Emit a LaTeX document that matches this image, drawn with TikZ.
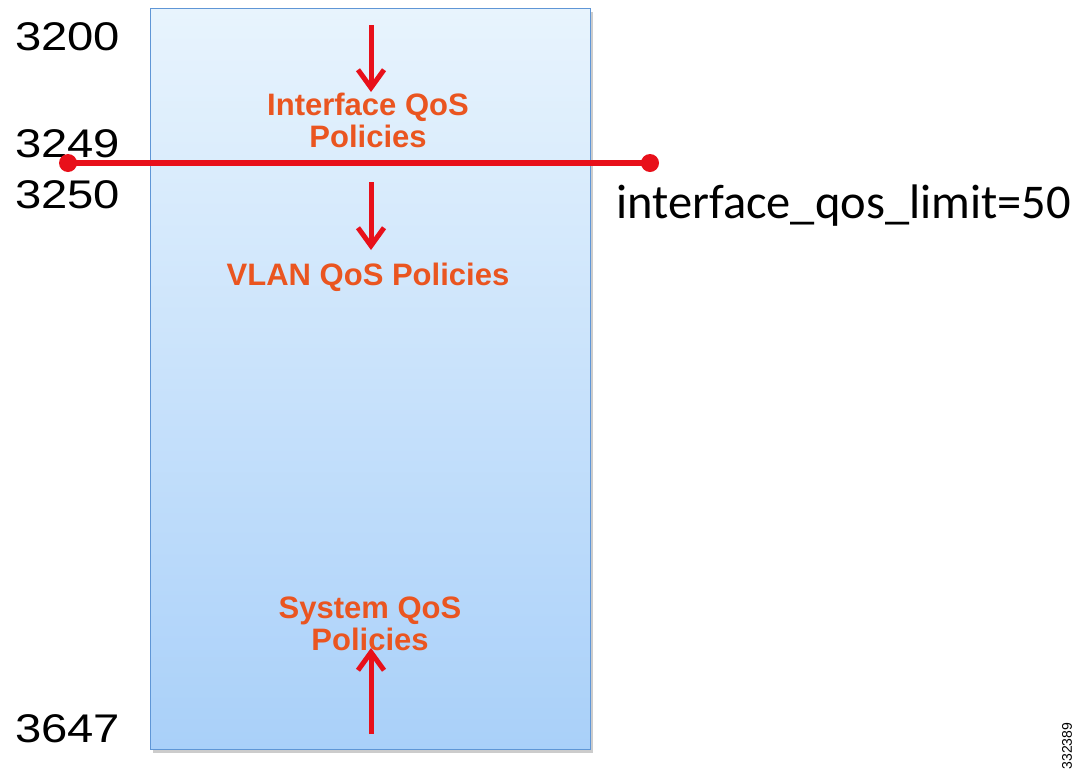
\documentclass[tikz,border=0pt]{standalone}
\usepackage{graphicx}
\usepackage{fontspec}
\setmainfont{Liberation Sans}
\newfontfamily\carlito{Carlito}
\usetikzlibrary{arrows.meta,shadows}
\definecolor{qosred}{HTML}{E8101A}
\definecolor{qosorange}{HTML}{EA5520}
\definecolor{boxtop}{HTML}{E8F4FD}
\definecolor{boxbot}{HTML}{A9D0F9}
\definecolor{boxedge}{HTML}{5F96D6}
\newcommand{\wide}[1]{\scalebox{1.18}[1]{#1}}

\begin{document}
\begin{tikzpicture}[x=1pt,y=-1pt]
      \tikzstyle{num}=[anchor=west,inner sep=0pt,font=\fontsize{40}{40}\selectfont];
      \tikzstyle{policy}=[text=qosorange,align=center,inner sep=0pt,font=\bfseries\fontsize{31}{32}\selectfont];
      \tikzstyle{dot}=[circle,fill=qosred,inner sep=0pt,minimum size=18pt];
      \tikzstyle{flow}=[-{Straight Barb[length=18pt,width=26pt,line width=5pt]},draw=qosred,line width=5pt];

      \useasboundingbox (0,0) rectangle (1089,774);

      \path[draw=boxedge,line width=1pt,top color=boxtop,bottom color=boxbot,
        drop shadow={shadow xshift=3pt,shadow yshift=-4pt,opacity=0.4}] (150,8) rectangle (590,749);

      \node[num](n3200) at (15,37) {\wide{3200}};
      \node[num](n3249) at (15,144) {\wide{3249}};
      \node[num](n3250) at (15,195) {\wide{3250}};
      \node[num](n3647) at (15,729) {\wide{3647}};

      \node[policy](iface) at (368,120) {Interface QoS\\Policies};
      \node[policy](vlan) at (368,277) {VLAN QoS Policies};
      \node[policy](system) at (370,624) {System QoS\\Policies};

      \coordinate (t1) at (371,25);
      \coordinate (h1) at (371,92);
      \coordinate (t2) at (371,182);
      \coordinate (h2) at (371,250);
      \coordinate (t3) at (371,734);
      \coordinate (h3) at (371,648);

      \draw[flow] (t1) -- (h1);
      \draw[flow] (t2) -- (h2);
      \draw[flow] (t3) -- (h3);

      \node[dot](lo) at (68,163) {};
      \node[dot](hi) at (650,163) {};
      \path[draw=qosred,line width=6pt] (lo.center) -- (hi.center);

      \node[anchor=west,inner sep=0pt,font=\carlito\fontsize{48.5}{48.5}\selectfont](limit) at (616,206) {interface\_qos\_limit=50};

      \node[rotate=90,font=\fontsize{14}{14}\selectfont](figno) at (1067,746) {332389};

    \end{tikzpicture}
\end{document}
